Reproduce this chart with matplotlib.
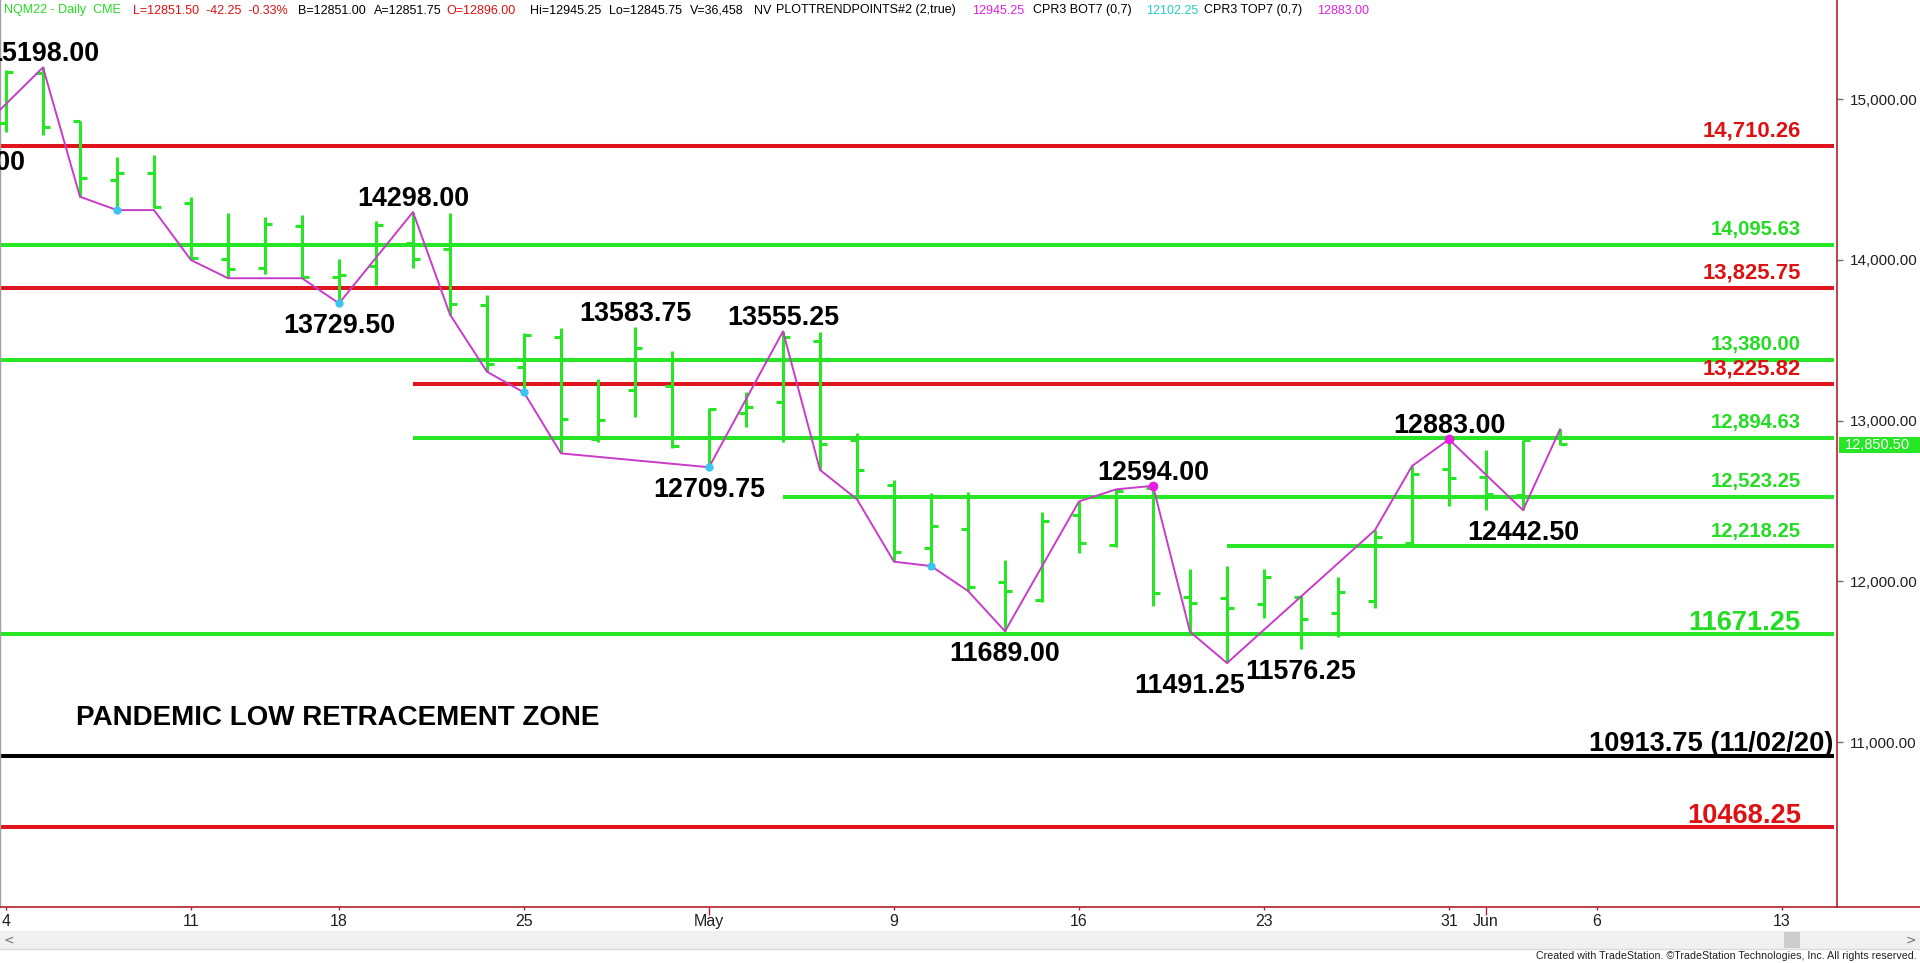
import matplotlib
matplotlib.use('Agg')
import numpy as np
import matplotlib.pyplot as plt
import matplotlib.transforms as mtransforms
from matplotlib import font_manager
from matplotlib.patches import Rectangle
from matplotlib.lines import Line2D

# daily OHLC bars, Apr 4 .. Jun 3 (trading days, index 0..42)
opens = [14853, 15165, 14866, 14497, 14539, 14352, 14004, 13948, 14211, 13893,
         13965, 14105, 14070, 13719, 13331, 13522, 12884, 13190, 13217, 12900,
         13045, 13118, 13495, 12880, 12599, 12205, 12323, 11998, 11884, 12413,
         12226, 12579, 11904, 11894, 11859, 11900, 11800, 11880, 12240, 12697,
         12651, 12536, 12896]
highs = [15182, 15198, 14866, 14642, 14653, 14390, 14290, 14269, 14280, 14004,
         14240, 14298, 14290, 13782, 13543, 13575, 13256, 13583.75, 13435, 13077,
         13180, 13555.25, 13553, 12925, 12630, 12547, 12554, 12133, 12433, 12502,
         12572, 12594, 12074, 12095, 12074, 11915, 12029, 12319, 12717, 12883,
         12817, 12880, 12945.25]
lows = [14798, 14777, 14393, 14310, 14321, 13999, 13886, 13910, 13886, 13729.5,
        13844, 13950, 13660, 13304, 13175, 12796, 12869, 13021, 12828, 12709.75,
        12962, 12869, 12693, 12510, 12122, 12080, 11940, 11689, 11873, 12174,
        12216, 11847, 11686, 11491.25, 11769, 11576.25, 11655, 11832, 12226, 12469,
        12444, 12442.5, 12845.75]
closes = [15172, 14830, 14508, 14539, 14327, 14010, 13943, 14223, 13892, 13905,
          14217, 14004, 13724, 13352, 13533, 13008, 13004, 13450, 12844, 13070,
          13083, 13522, 12852, 12693, 12184, 12344, 11967, 11942, 12377, 12240,
          12562, 11929, 11867, 11832, 12025, 11763, 11935, 12273, 12668, 12641,
          12543, 12878, 12851.5]

# PLOTTRENDPOINTS zigzag
trend_idx = [-1, 1, 2, 3, 4, 5, 6, 8, 9, 11, 12, 13, 14, 15, 19, 21, 22, 23, 24,
             25, 26, 27, 29, 30, 31, 32, 33, 37, 38, 39, 41, 42]
trend_px = [14743, 15198, 14393, 14310, 14310, 13999, 13886, 13886, 13729.5, 14298,
            13660, 13304, 13175, 12796, 12709.75, 13555.25, 12693, 12510, 12122,
            12095, 11940, 11689, 12497, 12572, 12594, 11686, 11491.25, 12319, 12717,
            12883, 12442.5, 12945.25]

cpr_bot_idx = [3, 9, 14, 19, 25]
cpr_bot_px = [14310, 13729.5, 13175, 12709.75, 12095]
cpr_top_idx = [31, 39]
cpr_top_px = [12594, 12883]

pivot_idx = [-1, 1, 11, 9, 17, 21, 19, 27, 31, 32, 35, 39, 41]
pivot_px = [14743, 15198, 14298, 13729.5, 13583.75, 13555.25, 12709.75, 11689,
            12594, 11491.25, 11576.25, 12883, 12442.5]
pivot_side = ['lo', 'hi', 'hi', 'lo', 'hi', 'hi', 'lo', 'lo', 'hi', 'lo', 'lo', 'hi', 'lo']

levels = [14710.26, 14095.63, 13825.75, 13380.00, 13225.82, 12894.63, 12523.25,
          12218.25, 11671.25, 10913.75, 10468.25]
level_kind = ['r', 'g', 'r', 'g', 'r', 'g', 'g', 'g', 'g', 'k', 'r']
level_start = [None, None, None, None, 11, 11, 21, 33, None, None, None]
level_text = ['14,710.26', '14,095.63', '13,825.75', '13,380.00', '13,225.82',
              '12,894.63', '12,523.25', '12,218.25', '11671.25',
              '10913.75 (11/02/20)', '10468.25']

tick_idx = [0, 5, 9, 14, 19, 24, 29, 34, 39, 40, 43, 48]
tick_lbl = ['4', '11', '18', '25', 'May', '9', '16', '23', '31', 'Jun', '6', '13']
price_ticks = [11000, 12000, 13000, 14000, 15000]
last_price = 12850.50

header = [
    ('NQM22 - Daily  CME', 'g', 4),
    ('L=12851.50  -42.25  -0.33%', 'r', 133),
    ('B=12851.00', 'k', 298),
    ('A=12851.75', 'k', 374),
    ('O=12896.00', 'r', 446),
    ('Hi=12945.25', 'k', 530),
    ('Lo=12845.75', 'k', 609),
    ('V=36,458', 'k', 690),
    ('NV', 'k', 754),
    ('PLOTTRENDPOINTS#2 (2,true)', 'k', 776),
    ('12945.25', 'm', 972),
    ('CPR3 BOT7 (0,7)', 'k', 1033),
    ('12102.25', 'c', 1146),
    ('CPR3 TOP7 (0,7)', 'k', 1204),
    ('12883.00', 'm', 1317),
]

# colours
G = '#26e626'
R = '#e0141c'
AX = '#b0202a'
line_col = {'g': G, 'r': R, 'k': 'black'}
txt_col = {'g': '#22dd22', 'r': '#dd1111', 'k': 'black', 'm': '#dd22dd', 'c': '#22cccc'}


def has_font(name):
    try:
        font_manager.findfont(font_manager.FontProperties(family=name),
                              fallback_to_default=False)
        return True
    except Exception:
        return False


REG = ['Liberation Sans', 'DejaVu Sans']
if has_font('Liberation Sans Narrow'):
    NARROW, narrow_ok = ['Liberation Sans Narrow', 'DejaVu Sans'], True
else:
    NARROW, narrow_ok = REG, False

W, H = 1920, 963
PPK = 0.1607          # pixels per price point
Y15 = 99.2            # pixel row of 15,000
BAR = 37.0            # pixels per bar
X0 = 6.0              # pixel column of bar 0
AXB = 907.0           # pixel row of the time axis
AXR = 1837.0          # pixel column of the price axis


def px2i(px):
    return (px - X0) / BAR


fig = plt.figure(figsize=(W / 100, H / 100), dpi=100)
fig.patch.set_facecolor('white')
ax = fig.add_axes([0, 1 - AXB / H, AXR / W, AXB / H])
ax.set_xlim(px2i(0), px2i(AXR))
ax.set_ylim(15000 - (AXB - Y15) / PPK, 15000 + Y15 / PPK)

# support / resistance levels
x_left, x_right = ax.get_xlim()
for lv, kind, st, txt in zip(levels, level_kind, level_start, level_text):
    xs = x_left if st is None else st
    ax.hlines(lv, xs, px2i(AXR - 3), color=line_col[kind], lw=2.9, zorder=1)
    if ',' in txt:
        size, off = (15.9 if kind == 'r' else 14.6), 7
    else:
        size, off = 19.6, 3.2
    xr = px2i(1833) if kind == 'k' else px2i(1801)
    ax.annotate(txt, (xr, lv), xytext=(0, off), textcoords='offset points',
                ha='right', va='baseline', color=txt_col[kind], fontsize=size,
                fontweight='bold', family=REG, zorder=6)

# OHLC bars
idx = np.arange(len(opens))
tk = 0.19
ax.vlines(idx, lows, highs, color=G, lw=2.2, zorder=3)
ax.hlines(opens, idx - tk, idx, color=G, lw=2.2, zorder=3)
ax.hlines(closes, idx, idx + tk, color=G, lw=2.2, zorder=3)

# zigzag and CPR dots
ax.plot(trend_idx, trend_px, color='#c83cc8', lw=1.4, zorder=4)
ax.plot(cpr_bot_idx, cpr_bot_px, 'o', ms=6, color='#3cc4f0', mec='none', zorder=5)
ax.plot(cpr_top_idx, cpr_top_px, 'o', ms=7, color='#e61ee6', mec='none', zorder=5)

# pivot labels
for i, v, side in zip(pivot_idx, pivot_px, pivot_side):
    off = 4.3 if side == 'hi' else -21.6
    ax.annotate(f'{v:.2f}', (i, v), xytext=(0, off), textcoords='offset points',
                ha='center', va='baseline', fontsize=19.4, fontweight='bold',
                family=REG, color='black', clip_on=True, annotation_clip=False,
                zorder=6)

ax.text(px2i(76), 11106, 'PANDEMIC LOW RETRACEMENT ZONE', fontsize=20,
        fontweight='bold', family=REG, va='baseline', ha='left', zorder=6)

# axes styling
ax.spines['top'].set_visible(False)
ax.spines['left'].set_color('#a0a0a0')
ax.spines['left'].set_linewidth(1)
for s in ('right', 'bottom'):
    ax.spines[s].set_color(AX)
    ax.spines[s].set_linewidth(1.2)

ax.yaxis.tick_right()
ax.set_yticks(price_ticks, [f'{v:,.2f}' for v in price_ticks])
ax.tick_params(axis='y', direction='out', length=4, width=1, color='#707070',
               pad=5, labelsize=11, labelcolor='#202020')
for lab in ax.get_yticklabels():
    lab.set_family(REG)

ax.set_xticks(tick_idx, tick_lbl)
ax.tick_params(axis='x', direction='out', length=2.2, width=1, color=AX, pad=3,
               labelsize=12.5 if narrow_ok else 11.5, labelcolor='#202020')
for t, lab in zip(ax.xaxis.get_major_ticks(), tick_lbl):
    t.label1.set_family(NARROW)
    if lab in ('May', 'Jun'):
        t.tick1line.set_markersize(5.8)

# time axis line continues under the price scale
ya = 1 - AXB / H
fig.add_artist(Line2D([AXR / W, 1], [ya, ya], color=AX, lw=1.2))

# last price marker on the price scale
bt = mtransforms.blended_transform_factory(fig.transFigure, ax.transData)
box_h = 16 / PPK
fig.add_artist(Rectangle((1839 / W, last_price - box_h / 2), 81 / W, box_h,
                         transform=bt, fc=G, ec='none'))
fig.text(1845 / W, last_price, f'{last_price:,.2f}', transform=bt, color='white',
         fontsize=10.5, family=REG, va='center', ha='left')

# header line
for s, c, x in header:
    fig.text(x / W, 1 - 10.5 / H, s, color=txt_col[c], fontsize=9, family=REG,
             va='center', ha='left')

# scrollbar and credit
fig.add_artist(Rectangle((0, 1 - 949 / H), 1, 18 / H, transform=fig.transFigure,
                         fc='#f0f0f0', ec='none'))
fig.add_artist(Line2D([0, 1], [1 - 949 / H, 1 - 949 / H], color='#dadada', lw=1))
fig.add_artist(Rectangle((1784 / W, 1 - 948 / H), 16 / W, 16 / H,
                         transform=fig.transFigure, fc='#cdcdcd', ec='none'))
fig.text(4 / W, 1 - 940 / H, '<', fontsize=9, color='#707070', va='center')
fig.text(1906 / W, 1 - 940 / H, '>', fontsize=9, color='#707070', va='center')
fig.text(1917 / W, 1 - 956 / H,
         'Created with TradeStation. \u00a9TradeStation Technologies, Inc. All rights reserved.',
         fontsize=9.2 if narrow_ok else 7.7, family=NARROW, color='#202020',
         ha='right', va='center')

fig.savefig('out.png', dpi=100, facecolor='white')
